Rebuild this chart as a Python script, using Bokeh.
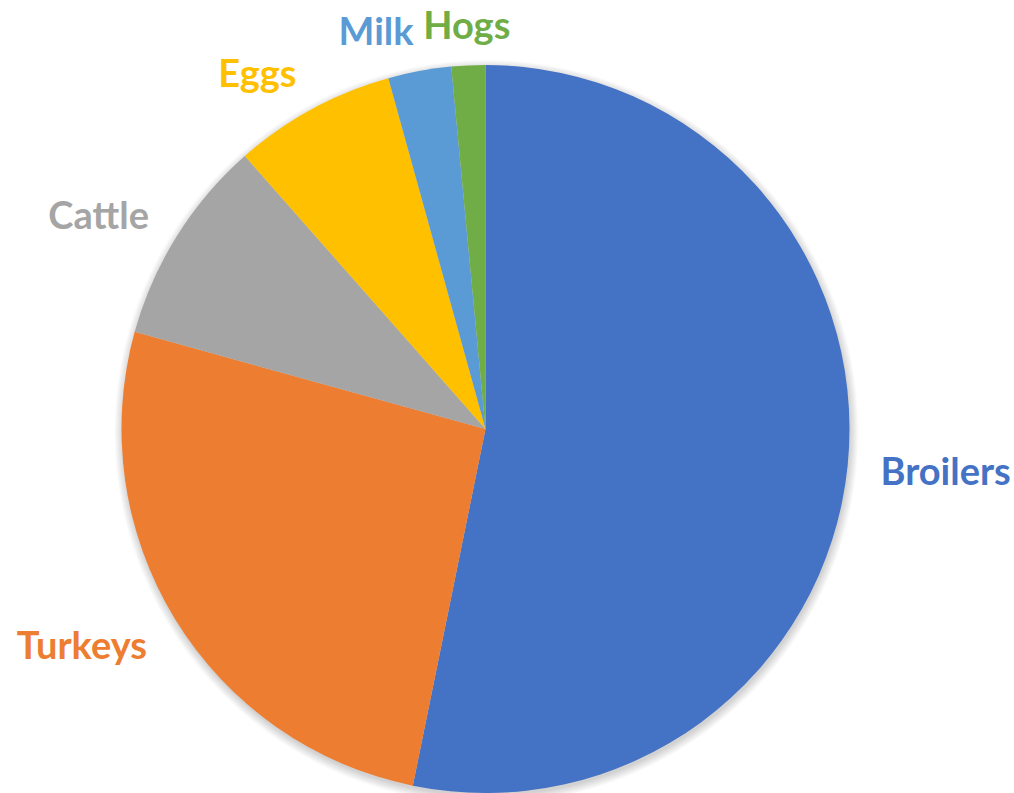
import numpy as np
from bokeh.plotting import figure
from bokeh.models import Range1d, ColumnDataSource
from bokeh.embed import file_html
from bokeh.resources import INLINE
from bokeh.core.properties import value

categories = ["Broilers", "Turkeys", "Cattle", "Eggs", "Milk", "Hogs"]
shares = [53.2, 26.1, 9.2, 7.2, 2.8, 1.5]
colors = ["#4472C4", "#ED7D31", "#A5A5A5", "#FFC000", "#5B9BD5", "#70AD47"]

W, H = 1014, 793
CX, CY, R = 485, 364.5, 364

frac = np.array(shares) / sum(shares)
cum_end = np.cumsum(frac)
cum_start = cum_end - frac
start_angle = np.pi / 2 - 2 * np.pi * cum_start
end_angle = np.pi / 2 - 2 * np.pi * cum_end
mid = 2 * np.pi * (cum_start + cum_end) / 2
dx = np.sin(mid)
dy = np.cos(mid)
RL = R + 33
lx = CX + RL * dx
ly = CY + RL * dy
yoff = np.where(dy > 0, -8.5 * dy, -15 * dy)
align = ["left" if d > 0.15 else ("right" if d < -0.15 else "center") for d in dx]

src = ColumnDataSource(dict(cat=categories, color=colors, start=start_angle, end=end_angle,
                            lx=lx, ly=ly, yoff=yoff, align=align))

p = figure(width=W, height=H, x_range=Range1d(0, W), y_range=Range1d(0, H),
           output_backend="svg", toolbar_location=None, min_border=0)
p.xaxis.visible = False
p.yaxis.visible = False
p.grid.visible = False
p.outline_line_color = None
p.background_fill_color = "white"
p.border_fill_color = "white"

# soft shadow
for i in range(9):
    p.circle(x=CX + 1, y=CY - 3, radius=R + i, fill_color="black", fill_alpha=0.018, line_color=None)

p.wedge(x=CX, y=CY, radius=R, start_angle="start", end_angle="end", direction="clock",
        fill_color="color", line_color=None, source=src)

p.text(x="lx", y="ly", text="cat", text_color="color", text_align="align",
       text_baseline="middle", y_offset="yoff", text_font=value("Lato"), text_font_style="bold",
       text_font_size="38px", source=src)

open("out.html", "w").write(file_html(p, INLINE))
